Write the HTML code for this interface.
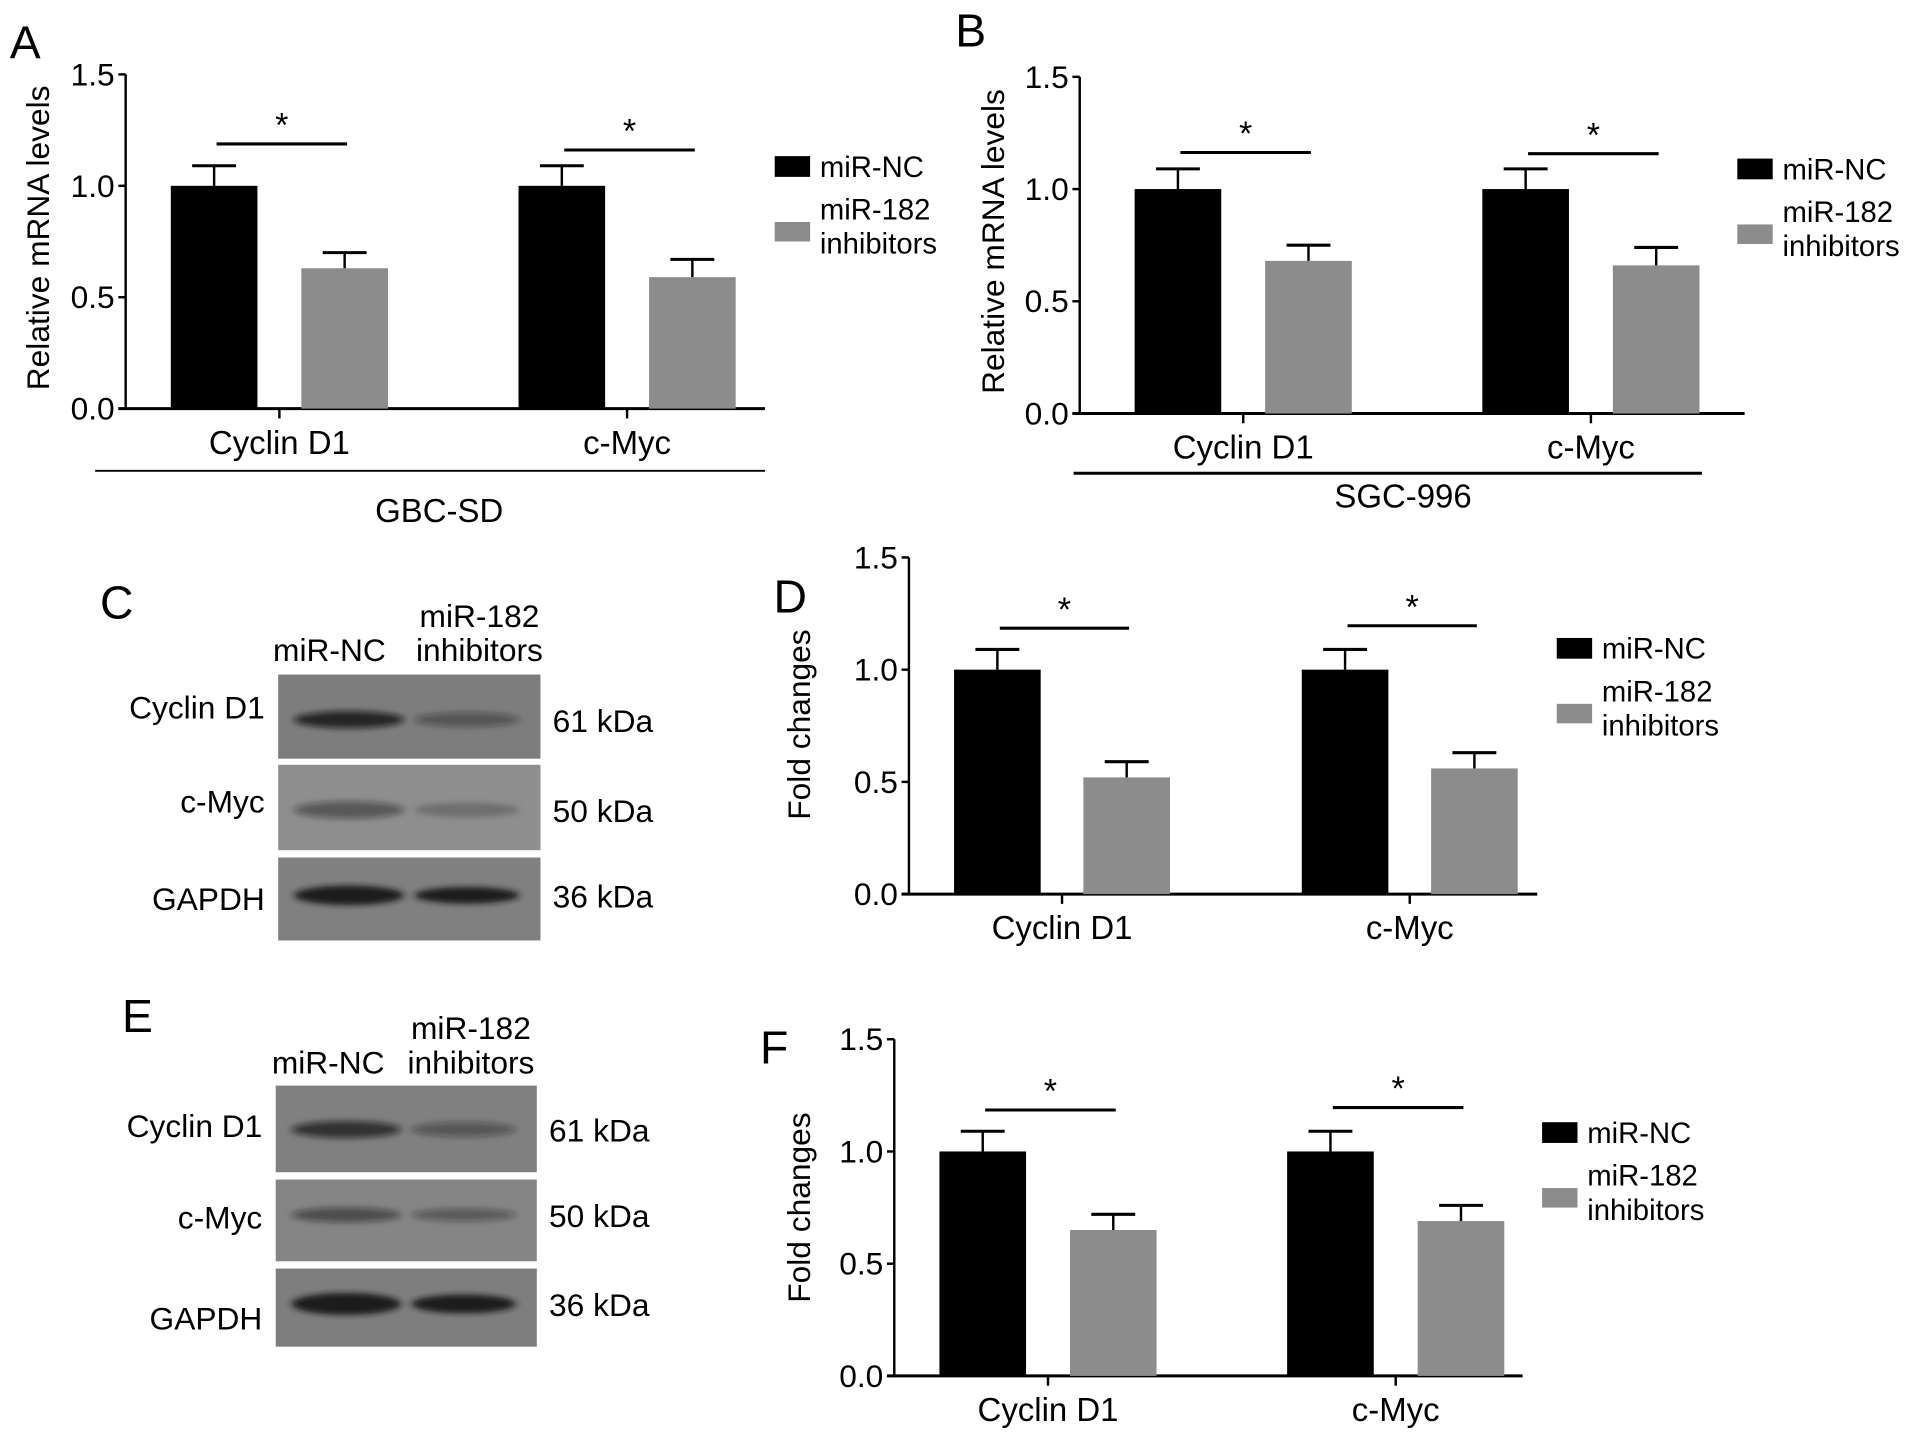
<!DOCTYPE html>
<html><head><meta charset="utf-8"><style>
html,body{margin:0;padding:0;background:#fff;}
svg{display:block;font-family:"Liberation Sans",Arial,sans-serif;}
</style></head><body>
<svg id="fig" width="1913" height="1443" viewBox="0 0 1568 1183" preserveAspectRatio="none" xmlns="http://www.w3.org/2000/svg">
<defs>
<filter id="blur" x="-20%" y="-100%" width="140%" height="300%"><feGaussianBlur stdDeviation="3 2.5"/></filter>
</defs>
<g id="blots"></g>
</svg>
<script>
const categories = ["Cyclin D1", "c-Myc"];
const seriesNames = ["miR-NC", "miR-182 inhibitors"];
const yTicks = [0, 0.5, 1.0, 1.5];
const yTickLabels = ["0.0", "0.5", "1.0", "1.5"];
// panel A
const aNC = [1.0, 1.0], aNCerr = [0.09, 0.09];
const aInh = [0.63, 0.59], aInhErr = [0.07, 0.08];
// panel B
const bNC = [1.0, 1.0], bNCerr = [0.09, 0.09];
const bInh = [0.68, 0.66], bInhErr = [0.07, 0.08];
// panel D
const dNC = [1.0, 1.0], dNCerr = [0.09, 0.09];
const dInh = [0.52, 0.56], dInhErr = [0.07, 0.07];
// panel F
const fNC = [1.0, 1.0], fNCerr = [0.09, 0.09];
const fInh = [0.65, 0.69], fInhErr = [0.07, 0.07];

const svg = document.getElementById('fig');
const NS = 'http://www.w3.org/2000/svg';
function mk(tag, attrs, parent, text) {
  const e = document.createElementNS(NS, tag);
  for (const k in attrs) e.setAttribute(k, attrs[k]);
  if (text !== undefined) e.textContent = text;
  (parent || svg).appendChild(e);
  return e;
}

function chart(cfg) {
  const g = mk('g', {});
  
  
  const y = v => cfg.y0 - (v / 1.5) * (cfg.y0 - cfg.y15);
  const x = (ci, si) => cfg.barX[ci] + si * cfg.gap;
  const L = mk('text', {x: cfg.letter[0], y: cfg.letter[1], 'font-size': 38}, g, cfg.letterText);
  
  
  const ya = mk('line', {x1: cfg.ax, x2: cfg.ax, y1: y(1.5), y2: cfg.y0 + 1, stroke: '#000', 'stroke-width': 2}, g);
  
  
  yTicks.forEach((t, i) => {
    mk('line', {x1: cfg.ax - 6, x2: cfg.ax, y1: y(t), y2: y(t), stroke: '#000', 'stroke-width': 2}, g);
    const tl = mk('text', {x: cfg.ax - 9, y: y(t) + 9, 'font-size': 26, 'text-anchor': 'end'}, g, yTickLabels[i]);
    
    
  });
  const xa = mk('line', {x1: cfg.ax - 6, x2: cfg.xEnd, y1: cfg.y0, y2: cfg.y0, stroke: '#000', 'stroke-width': 2.5}, g);
  
  
  const yt = mk('text', {x: 0, y: 0, 'font-size': 26, 'text-anchor': 'middle', transform: `translate(${cfg.ytx},${cfg.yty}) rotate(-90)`}, g, cfg.ytitle);
  
  
  const vals = [cfg.nc, cfg.inh], errs = [cfg.ncErr, cfg.inhErr], fills = ['#000', '#8c8c8c'];
  categories.forEach((c, ci) => {
    for (let si = 0; si < 2; si++) {
      const bx = x(ci, si), v = vals[si][ci], e = errs[si][ci];
      const r = mk('rect', {x: bx, y: y(v), width: cfg.bw, height: cfg.y0 - y(v), fill: fills[si]}, g);
      
      
      const cx = bx + cfg.bw / 2;
      mk('line', {x1: cx, x2: cx, y1: y(v), y2: y(v + e), stroke: '#000', 'stroke-width': 2}, g);
      mk('line', {x1: cx - 18, x2: cx + 18, y1: y(v + e), y2: y(v + e), stroke: '#000', 'stroke-width': 2.5}, g);
    }
    const mid = (x(ci, 0) + x(ci, 1) + cfg.bw) / 2;
    mk('line', {x1: mid, x2: mid, y1: cfg.y0, y2: cfg.y0 + 8, stroke: '#000', 'stroke-width': 2}, g);
    const cl = mk('text', {x: mid, y: cfg.y0 + 37, 'font-size': 27, 'text-anchor': 'middle'}, g, c);
    
    
    const n1 = x(ci, 0) + cfg.bw / 2, n2 = x(ci, 1) + cfg.bw / 2;
    const sy = cfg.sigY[ci];
    mk('line', {x1: n1 + 2, x2: n2 + 2, y1: sy, y2: sy, stroke: '#000', 'stroke-width': 2.5}, g);
    const st = mk('text', {x: (n1 + n2) / 2 + 2, y: sy - 6, 'font-size': 28, 'text-anchor': 'middle'}, g, '*');
    
    
  });
  const lg = mk('g', {}, g);
  
  
  const [lx, ly] = cfg.leg;
  mk('rect', {x: lx, y: ly, width: 29, height: 17, fill: '#000'}, lg);
  mk('text', {x: lx + 37, y: ly + 17, 'font-size': 24}, lg, 'miR-NC');
  mk('rect', {x: lx, y: ly + 54, width: 29, height: 16, fill: '#8c8c8c'}, lg);
  mk('text', {x: lx + 37, y: ly + 52, 'font-size': 24}, lg, 'miR-182');
  mk('text', {x: lx + 37, y: ly + 80, 'font-size': 24}, lg, 'inhibitors');
  if (cfg.group) {
    const [gx1, gx2, gy, gw, tx, ty, txt] = cfg.group;
    mk('line', {x1: gx1, x2: gx2, y1: gy, y2: gy, stroke: '#000', 'stroke-width': gw}, g);
    const gt = mk('text', {x: tx, y: ty, 'font-size': 27, 'text-anchor': 'middle'}, g, txt);
    
    
  }
}

chart({name: 'chart-a-gbc-sd', letterText: 'A', letter: [8, 48], ax: 103, y0: 335, y15: 61, xEnd: 627,
  barX: [140, 425], gap: 107, bw: 71, nc: aNC, ncErr: aNCerr, inh: aInh, inhErr: aInhErr, sigY: [118, 123],
  ytitle: 'Relative mRNA levels', ytx: 40, yty: 195, leg: [635, 128],
  group: [78, 627, 386, 1.5, 360, 428, 'GBC-SD']});
chart({name: 'chart-b-sgc-996', letterText: 'B', letter: [783, 38], ax: 885, y0: 339, y15: 63, xEnd: 1430,
  barX: [930, 1215], gap: 107, bw: 71, nc: bNC, ncErr: bNCerr, inh: bInh, inhErr: bInhErr, sigY: [125, 126],
  ytitle: 'Relative mRNA levels', ytx: 823, yty: 198, leg: [1424, 130],
  group: [880, 1395, 388, 2.5, 1150, 416, 'SGC-996']});
chart({name: 'chart-d-fold-changes', letterText: 'D', letter: [634, 502], ax: 745, y0: 733, y15: 457, xEnd: 1260,
  barX: [782, 1067], gap: 106, bw: 71, nc: dNC, ncErr: dNCerr, inh: dInh, inhErr: dInhErr, sigY: [515, 513],
  ytitle: 'Fold changes', ytx: 664, yty: 594, leg: [1276, 523]});
chart({name: 'chart-f-fold-changes', letterText: 'F', letter: [623, 872], ax: 733, y0: 1128, y15: 852, xEnd: 1248,
  barX: [770, 1055], gap: 107, bw: 71, nc: fNC, ncErr: fNCerr, inh: fInh, inhErr: fInhErr, sigY: [910, 908],
  ytitle: 'Fold changes', ytx: 664, yty: 990, leg: [1264, 920]});

const blots = document.getElementById('blots');
function blot(name, letter, lpos, bx, bw, rows, hdr) {
  const g = mk('g', {}, blots);
  
  
  const L = mk('text', {x: lpos[0], y: lpos[1], 'font-size': 38}, g, letter);
  
  
  mk('text', {x: hdr[0], y: hdr[2], 'font-size': 26, 'text-anchor': 'middle'}, g, 'miR-NC');
  mk('text', {x: hdr[1], y: hdr[2] - 28, 'font-size': 26, 'text-anchor': 'middle'}, g, 'miR-182');
  mk('text', {x: hdr[1], y: hdr[2], 'font-size': 26, 'text-anchor': 'middle'}, g, 'inhibitors');
  rows.forEach(r => {
    const [y1, y2, bg, lab, labY, kda, bandY, i1, i2, bh] = r;
    mk('rect', {x: bx, y: y1, width: bw, height: y2 - y1, fill: bg}, g);
    mk('ellipse', {cx: bx + bw * 0.27, cy: bandY, rx: bw * 0.21, ry: bh, fill: `rgba(20,20,20,${i1})`, filter: 'url(#blur)'}, g);
    mk('ellipse', {cx: bx + bw * 0.72, cy: bandY, rx: bw * 0.2, ry: bh * 0.85, fill: `rgba(20,20,20,${i2})`, filter: 'url(#blur)'}, g);
    const t = mk('text', {x: bx - 11, y: labY, 'font-size': 26, 'text-anchor': 'end'}, g, lab);
    
    
    mk('text', {x: bx + bw + 10, y: bandY + 10, 'font-size': 26}, g, kda);
  });
}
blot('western-blot-c', 'C', [82, 507], 228, 215, [
  [553, 622, '#7d7d7d', 'Cyclin D1', 589, '61 kDa', 590, 0.8, 0.4, 7],
  [627, 697, '#8e8e8e', 'c-Myc', 666, '50 kDa', 664, 0.45, 0.22, 7],
  [703, 771, '#808080', 'GAPDH', 746, '36 kDa', 734, 0.95, 0.95, 8]
], [270, 393, 542]);
blot('western-blot-e', 'E', [100, 846], 226, 214, [
  [890, 961, '#808080', 'Cyclin D1', 932, '61 kDa', 926, 0.7, 0.4, 7],
  [967, 1034, '#858585', 'c-Myc', 1007, '50 kDa', 996, 0.5, 0.4, 6],
  [1040, 1104, '#7e7e7e', 'GAPDH', 1090, '36 kDa', 1069, 0.95, 0.95, 9]
], [269, 386, 880]);
</script>
</body></html>
